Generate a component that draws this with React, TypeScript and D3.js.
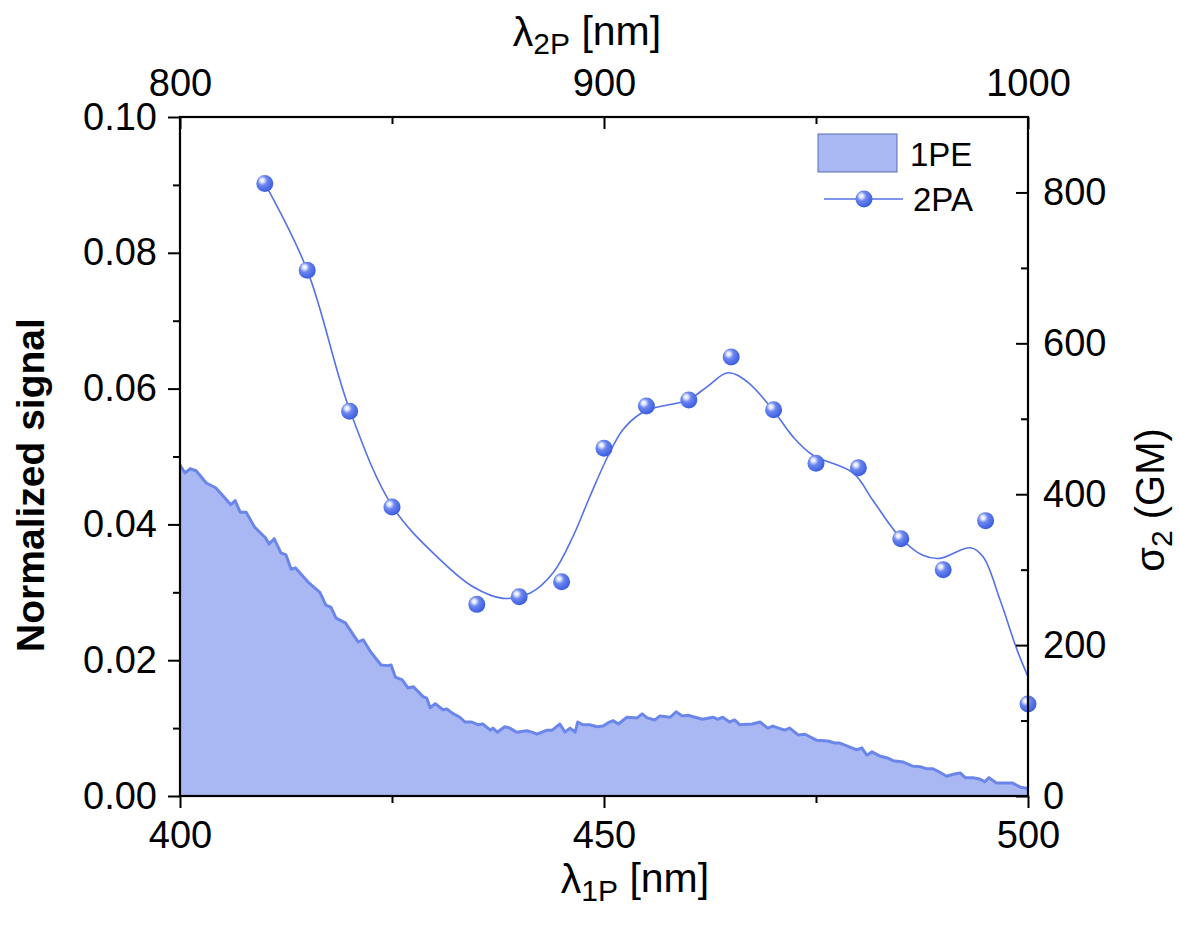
import React, { useEffect, useRef } from "react"
import * as d3 from "d3"

// 1PE spectrum (bottom axis, left axis)
const pe1Wavelength = [
    400.0, 400.1, 400.6, 401.2, 401.9, 403.1, 404.2, 404.8, 406.0, 406.5, 407.1, 407.8, 408.8,
    410.1, 410.5, 411.1, 411.9, 412.5, 413.1, 413.6, 415.1, 416.5, 417.2, 417.8, 418.4, 419.5,
    421.0, 421.6, 422.5, 423.7, 424.5, 424.9, 425.4, 426.2, 426.9, 427.5, 428.7, 429.1, 429.5,
    430.1, 431.0, 431.5, 432.1, 433.0, 433.6, 434.4, 435.1, 435.7, 436.6, 436.9, 437.4, 438.3,
    438.9, 439.7, 440.9, 441.5, 442.1, 443.3, 443.9, 444.8, 445.4, 446.0, 446.6, 446.9, 447.5,
    448.3, 449.2, 449.9, 450.5, 451.1, 451.7, 452.7, 453.9, 454.5, 455.1, 456.0, 456.6, 457.8,
    458.5, 459.2, 459.9, 461.6, 462.9, 463.4, 464.0, 464.8, 465.4, 466.0, 467.5, 468.4, 469.3,
    469.9, 471.3, 471.9, 472.9, 473.7, 475.1, 476.4, 477.2, 477.8, 479.0, 479.8, 480.4, 481.0,
    481.6, 482.5, 483.4, 484.1, 485.3, 486.4, 487.3, 488.1, 488.8, 489.6, 490.4, 491.2, 492.0,
    492.6, 493.5, 494.3, 494.9, 495.4, 496.3, 497.1, 498.2, 499.1, 500.0
]
const pe1Signal = [
    0.0488, 0.0485, 0.0476, 0.0482, 0.0479, 0.0461, 0.0454, 0.0446, 0.0429, 0.0435, 0.0418, 0.0418, 0.0396,
    0.0380, 0.0371, 0.0379, 0.0358, 0.0355, 0.0334, 0.0336, 0.0315, 0.0300, 0.0281, 0.0278, 0.0262, 0.0255,
    0.0227, 0.0230, 0.0212, 0.0193, 0.0192, 0.0193, 0.0175, 0.0171, 0.0159, 0.0161, 0.0146, 0.0144, 0.0130,
    0.0136, 0.0127, 0.0128, 0.0122, 0.0116, 0.0109, 0.0109, 0.0105, 0.0106, 0.0097, 0.0100, 0.0094, 0.0102,
    0.0100, 0.0094, 0.0096, 0.0094, 0.0091, 0.0097, 0.0097, 0.0106, 0.0094, 0.0100, 0.0094, 0.0109, 0.0105,
    0.0105, 0.0102, 0.0103, 0.0108, 0.0111, 0.0106, 0.0116, 0.0115, 0.0121, 0.0115, 0.0112, 0.0118, 0.0116,
    0.0124, 0.0118, 0.0119, 0.0113, 0.0116, 0.0113, 0.0116, 0.0109, 0.0112, 0.0105, 0.0106, 0.0109, 0.0100,
    0.0103, 0.0097, 0.0100, 0.0090, 0.0091, 0.0082, 0.0081, 0.0078, 0.0078, 0.0072, 0.0068, 0.0071, 0.0060,
    0.0065, 0.0059, 0.0056, 0.0052, 0.0050, 0.0044, 0.0043, 0.0040, 0.0040, 0.0035, 0.0029, 0.0032, 0.0034,
    0.0027, 0.0027, 0.0025, 0.0021, 0.0027, 0.0019, 0.0019, 0.0019, 0.0013, 0.0011
]

// 2PA cross sections (bottom axis, right axis)
const pa2Wavelength = [410, 415, 420, 425, 435, 440, 445, 450, 455, 460, 465, 470, 475, 480, 485, 490, 495, 500]
const pa2Cross = [812, 697, 510, 383, 254, 264, 284, 461, 517, 525, 582, 512, 441, 435, 341, 300, 365, 122]

// smoothed guide curve through the 2PA points
const fitWavelength = [
    410.0, 415.0, 420.0, 425.1, 430.7, 434.6, 438.1, 441.3, 444.0, 446.3, 448.3, 450.4, 452.2,
    454.2, 455.8, 459.9, 462.1, 464.6, 466.9, 469.9, 472.3, 474.6, 479.4, 481.7, 484.9, 487.6,
    489.6, 493.2, 494.7, 496.7, 498.7, 500.0
]
const fitCross = [
    812, 697, 512, 383, 313, 277, 262, 269, 296, 343, 396, 449, 485,
    506, 514, 525, 542, 561, 549, 512, 476, 452, 428, 392, 343, 319,
    315, 329, 317, 260, 194, 158
]

const leftTicks = [0, 0.02, 0.04, 0.06, 0.08, 0.1]
const leftMinor = [0.01, 0.03, 0.05, 0.07, 0.09]
const rightTicks = [0, 200, 400, 600, 800]
const rightMinor = [100, 300, 500, 700]
const bottomTicks = [400, 450, 500]
const bottomMinor = [425, 475]
const topTicks = [800, 900, 1000]
const topMinor = [850, 950]

const FONT = "'Liberation Sans', Arial, Helvetica, sans-serif"
const AREA_FILL = "#a9b8f2"
const AREA_EDGE = "#6a86ea"
const LINE_COLOR = "#5472e8"

export default function App() {
    const margin = { top: 117, right: 151, bottom: 129, left: 180 }
    const W = 1179
    const H = 925
    const width = W - margin.left - margin.right
    const height = H - margin.top - margin.bottom

    const x = d3.scaleLinear().domain([400, 500]).range([0, width])
    const xTop = d3.scaleLinear().domain([800, 1000]).range([0, width])
    const y = d3.scaleLinear().domain([0, 0.1]).range([height, 0])
    const yR = d3.scaleLinear().domain([0, 900]).range([height, 0])

    const leftRef = useRef(null)
    const rightRef = useRef(null)
    const bottomRef = useRef(null)
    const topRef = useRef(null)

    useEffect(() => {
        const style = (g) => {
            g.select(".domain").remove()
            g.attr("font-family", FONT).attr("font-size", 38)
            g.selectAll("text").attr("fill", "#000")
            g.selectAll("line").attr("stroke", "#000").attr("stroke-width", 2)
        }
        const draw = (node, major, minor) => {
            const g = d3.select(node)
            g.selectAll("*").remove()
            const a = g.append("g").call(major)
            const b = g.append("g").call(minor)
            style(a)
            style(b)
        }
        draw(leftRef.current,
            d3.axisLeft(y).tickValues(leftTicks).tickSize(12).tickPadding(11).tickFormat(d3.format(".2f")),
            d3.axisLeft(y).tickValues(leftMinor).tickSize(7).tickFormat(() => ""))
        draw(rightRef.current,
            d3.axisRight(yR).tickValues(rightTicks).tickSize(-12).tickPadding(15).tickFormat(d3.format("d")),
            d3.axisRight(yR).tickValues(rightMinor).tickSize(-7).tickFormat(() => ""))
        draw(bottomRef.current,
            d3.axisBottom(x).tickValues(bottomTicks).tickSize(12).tickPadding(13).tickFormat(d3.format("d")),
            d3.axisBottom(x).tickValues(bottomMinor).tickSize(7).tickFormat(() => ""))
        draw(topRef.current,
            d3.axisTop(xTop).tickValues(topTicks).tickSize(-12).tickPadding(21).tickFormat(d3.format("d")),
            d3.axisTop(xTop).tickValues(topMinor).tickSize(-7).tickFormat(() => ""))
    }, [])

    const peData = pe1Wavelength.map((w, i) => [w, pe1Signal[i]])
    const area = d3.area()
        .x((d) => x(d[0]))
        .y0(height)
        .y1((d) => y(d[1]))
    const edge = d3.line()
        .x((d) => x(d[0]))
        .y((d) => y(d[1]))

    const fitData = fitWavelength.map((w, i) => [w, fitCross[i]])
    const fitLine = d3.line()
        .x((d) => x(d[0]))
        .y((d) => yR(d[1]))
        .curve(d3.curveCatmullRom.alpha(0.5))

    return (
        <svg width={W} height={H} style={{ position: "absolute", left: 0, top: 0, background: "#fff" }}
            fontFamily={FONT}>
            <defs>
                <radialGradient id="ball" cx="38%" cy="36%" r="62%" fx="34%" fy="32%">
                    <stop offset="0%" stopColor="#ffffff" />
                    <stop offset="18%" stopColor="#e2e8fd" />
                    <stop offset="45%" stopColor="#6d87ee" />
                    <stop offset="100%" stopColor="#3d5fe2" />
                </radialGradient>
            </defs>
            <g transform={"translate(" + margin.left + "," + margin.top + ")"}>
                <path d={area(peData)} fill={AREA_FILL} stroke="none" />
                <path d={edge(peData)} fill="none" stroke={AREA_EDGE} strokeWidth={3} strokeLinejoin="round" />
                <path d={fitLine(fitData)} fill="none" stroke={LINE_COLOR} strokeWidth={1.6} />
                {pa2Wavelength.map((w, i) => (
                    <circle key={i} cx={x(w)} cy={yR(pa2Cross[i])} r={8.5} fill="url(#ball)" />
                ))}
                <rect x={0} y={0} width={width} height={height} fill="none" stroke="#000" strokeWidth={2.2} />
                <g ref={leftRef} />
                <g ref={rightRef} transform={"translate(" + width + ",0)"} />
                <g ref={bottomRef} transform={"translate(0," + height + ")"} />
                <g ref={topRef} />

                {/* legend */}
                <g transform="translate(638,17)">
                    <rect x={0} y={0} width={79} height={38} fill={AREA_FILL} stroke="#5a6db6" strokeWidth={1} />
                    <text x={92} y={32} fontSize={33}>1PE</text>
                    <line x1={6} x2={85} y1={65} y2={65} stroke={LINE_COLOR} strokeWidth={1.6} />
                    <circle cx={46} cy={65} r={8.5} fill="url(#ball)" />
                    <text x={95} y={77} fontSize={33}>2PA</text>
                </g>
            </g>

            {/* axis titles */}
            <text x={30} y={485} fontSize={39} fontWeight="bold" textAnchor="middle"
                transform="rotate(-90,30,485)" dy="0.35em">Normalized signal</text>
            <text x={1150} y={500} fontSize={40} textAnchor="middle"
                transform="rotate(-90,1150,500)" dy="0.35em">
                σ<tspan fontSize={30} dy="0.25em">2</tspan><tspan dy="-0.2em"> (GM)</tspan>
            </text>
            <text x={635} y={893} fontSize={41} textAnchor="middle">
                λ<tspan fontSize={30} dy="0.25em">1P</tspan><tspan dy="-0.2em"> [nm]</tspan>
            </text>
            <text x={587} y={46} fontSize={41} textAnchor="middle">
                λ<tspan fontSize={30} dy="0.25em">2P</tspan><tspan dy="-0.2em"> [nm]</tspan>
            </text>
        </svg>
    )
}
